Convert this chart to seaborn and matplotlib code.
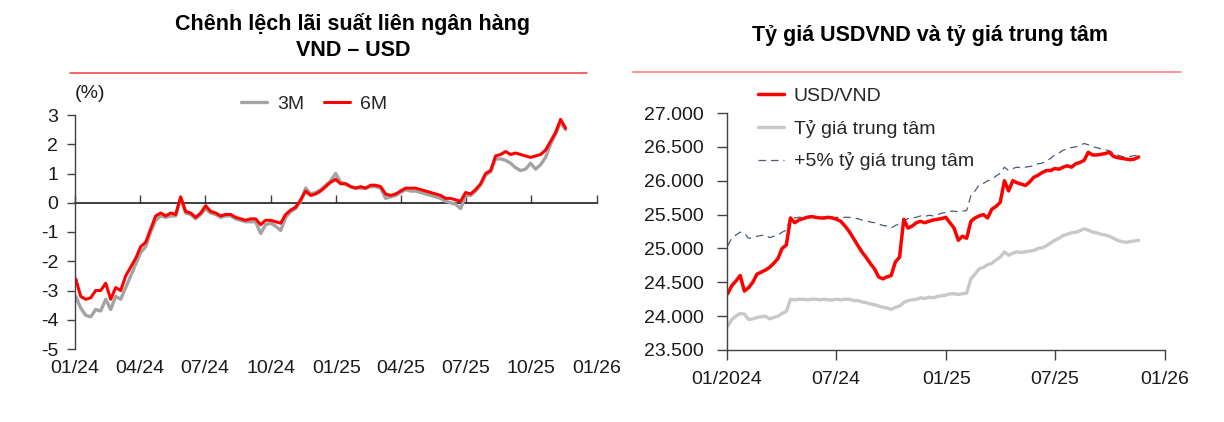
import matplotlib
matplotlib.use("Agg")
import matplotlib.pyplot as plt
import matplotlib.dates as mdates
from matplotlib.lines import Line2D
from matplotlib.ticker import FuncFormatter, FixedLocator
import numpy as np
import pandas as pd
import seaborn as sns

# ---------------- DATA ----------------
start_date = "2024-01-02"  # weekly observations

# Left chart: interbank rate spread VND - USD (%)
spread_3m = [-3.2, -3.6, -3.85, -3.9, -3.65, -3.7, -3.3, -3.65, -3.2, -3.3,
             -2.9, -2.5, -2.1, -1.7, -1.5, -1.0, -0.6, -0.45, -0.5, -0.45,
             -0.45, 0.15, -0.35, -0.4, -0.55, -0.4, -0.2, -0.35, -0.4, -0.5,
             -0.45, -0.45, -0.55, -0.6, -0.65, -0.65, -0.65, -1.05, -0.75, -0.7,
             -0.8, -0.95, -0.5, -0.3, -0.2, 0.05, 0.5, 0.3, 0.35, 0.45,
             0.6, 0.75, 1.0, 0.7, 0.65, 0.55, 0.5, 0.5, 0.5, 0.55,
             0.55, 0.5, 0.15, 0.2, 0.25, 0.35, 0.45, 0.4, 0.4, 0.35,
             0.3, 0.25, 0.2, 0.15, 0.05, 0.0, -0.05, -0.2, 0.25, 0.25,
             0.4, 0.6, 0.95, 1.05, 1.5, 1.5, 1.45, 1.35, 1.2, 1.1,
             1.15, 1.35, 1.15, 1.3, 1.55, 2.0, 2.35, 2.75, 2.5]
spread_6m = [-2.6, -3.2, -3.3, -3.25, -3.0, -3.0, -2.75, -3.3, -2.9, -3.0,
             -2.5, -2.2, -1.9, -1.5, -1.35, -0.9, -0.45, -0.35, -0.45, -0.35,
             -0.4, 0.2, -0.3, -0.35, -0.5, -0.35, -0.1, -0.3, -0.35, -0.45,
             -0.4, -0.4, -0.5, -0.55, -0.6, -0.55, -0.55, -0.75, -0.6, -0.6,
             -0.65, -0.7, -0.4, -0.25, -0.15, 0.1, 0.4, 0.25, 0.3, 0.4,
             0.55, 0.7, 0.8, 0.65, 0.65, 0.55, 0.5, 0.55, 0.5, 0.6,
             0.6, 0.55, 0.3, 0.25, 0.3, 0.4, 0.5, 0.5, 0.5, 0.45,
             0.4, 0.35, 0.3, 0.25, 0.15, 0.15, 0.1, 0.05, 0.35, 0.3,
             0.45, 0.65, 1.0, 1.1, 1.6, 1.65, 1.75, 1.65, 1.7, 1.65,
             1.6, 1.55, 1.6, 1.65, 1.8, 2.1, 2.4, 2.85, 2.55]

# Right chart: USD/VND, central rate, +5% band
usd_vnd = [24330, 24450, 24520, 24600, 24370, 24420, 24500, 24620, 24650, 24680,
           24720, 24780, 24850, 25000, 25050, 25450, 25380, 25420, 25440, 25460,
           25470, 25460, 25450, 25450, 25460, 25450, 25430, 25400, 25330, 25250,
           25150, 25050, 24950, 24870, 24780, 24700, 24580, 24550, 24580, 24600,
           24800, 24870, 25430, 25300, 25330, 25380, 25400, 25380, 25400, 25420,
           25430, 25440, 25460, 25380, 25300, 25120, 25180, 25150, 25400, 25450,
           25480, 25500, 25450, 25580, 25620, 25680, 26000, 25850, 26000, 25970,
           25950, 25930, 25980, 26050, 26080, 26120, 26150, 26150, 26180, 26170,
           26200, 26220, 26200, 26250, 26270, 26300, 26420, 26380, 26380, 26390,
           26400, 26420, 26360, 26340, 26330, 26320, 26310, 26320, 26350]
central_rate = [23850, 23950, 24000, 24040, 24030, 23950, 23960, 23980, 23990, 24000,
                23960, 23980, 24000, 24040, 24070, 24250, 24240, 24250, 24250, 24240,
                24250, 24250, 24240, 24250, 24240, 24240, 24250, 24240, 24250, 24250,
                24230, 24230, 24210, 24200, 24180, 24170, 24150, 24130, 24120, 24100,
                24130, 24150, 24200, 24230, 24240, 24250, 24270, 24260, 24280, 24270,
                24290, 24300, 24310, 24330, 24330, 24320, 24330, 24340, 24550, 24620,
                24700, 24720, 24760, 24780, 24830, 24870, 24950, 24900, 24930, 24950,
                24940, 24950, 24960, 24970, 25000, 25010, 25040, 25080, 25120, 25150,
                25190, 25210, 25230, 25240, 25260, 25290, 25270, 25240, 25230, 25210,
                25200, 25180, 25150, 25120, 25100, 25090, 25100, 25110, 25120]
band_plus5 = [25040, 25150, 25200, 25240, 25230, 25150, 25160, 25180, 25190, 25200,
              25160, 25180, 25200, 25240, 25270, 25460, 25450, 25460, 25460, 25450,
              25460, 25460, 25450, 25460, 25450, 25450, 25460, 25450, 25460, 25460,
              25440, 25440, 25420, 25410, 25390, 25380, 25360, 25340, 25330, 25300,
              25340, 25360, 25410, 25440, 25450, 25460, 25480, 25470, 25490, 25480,
              25500, 25520, 25530, 25550, 25550, 25540, 25550, 25560, 25780, 25850,
              25940, 25960, 26000, 26020, 26070, 26110, 26200, 26150, 26180, 26200,
              26190, 26200, 26210, 26220, 26250, 26260, 26290, 26330, 26380, 26410,
              26450, 26470, 26490, 26500, 26520, 26550, 26530, 26500, 26490, 26470,
              26460, 26440, 26410, 26380, 26360, 26340, 26360, 26370, 26380]

left_ticks = ["2024-01-01", "2024-04-01", "2024-07-01", "2024-10-01", "2025-01-01",
              "2025-04-01", "2025-07-01", "2025-10-01", "2026-01-01"]
left_tick_labels = ["01/24", "04/24", "07/24", "10/24", "01/25", "04/25", "07/25", "10/25", "01/26"]
right_ticks = ["2024-01-01", "2024-07-01", "2025-01-01", "2025-07-01", "2026-01-01"]
right_tick_labels = ["01/2024", "07/24", "01/25", "07/25", "01/26"]

left_title = "Chênh lệch lãi suất liên ngân hàng\nVND – USD"
right_title = "Tỷ giá USDVND và tỷ giá trung tâm"


def frame(values):
    return pd.DataFrame({"date": pd.date_range(start_date, periods=len(values), freq="7D"),
                         "value": values})


# ---------------- STYLE ----------------
sns.set_theme(style="white")
plt.rcParams["font.family"] = ["Liberation Sans", "DejaVu Sans"]
plt.rcParams["axes.unicode_minus"] = False

W, H = 1224, 422
fig = plt.figure(figsize=(W / 100, H / 100), dpi=100)
fig.patch.set_facecolor("white")

def fx(px):
    return px / W

def fy(py):
    return 1 - py / H

TXT = "#1a1a1a"
SPINE = "#404040"
FS = 14
TFS = 15.5

# ---------------- LEFT CHART ----------------
axL = fig.add_axes([fx(75), fy(349), fx(597) - fx(75), fy(115) - fy(349)])
sns.lineplot(data=frame(spread_3m), x="date", y="value", ax=axL, color="#A3A3A3", lw=2.4, label="3M")
sns.lineplot(data=frame(spread_6m), x="date", y="value", ax=axL, color="#FF0000", lw=2.2, label="6M")
axL.set_xlim(pd.Timestamp("2024-01-01"), pd.Timestamp("2026-01-01"))
axL.set_ylim(-5, 3)
axL.set_yticks(range(-5, 4))
axL.set_xlabel("")
axL.set_ylabel("")
for s in ["top", "right", "bottom"]:
    axL.spines[s].set_visible(False)
axL.spines["left"].set_color(SPINE)
axL.spines["left"].set_linewidth(1)
lt = [mdates.date2num(pd.Timestamp(t)) for t in left_ticks]
axL.xaxis.set_major_locator(FixedLocator(lt))
axL.set_xticklabels(left_tick_labels)
axL.tick_params(axis="x", length=0, pad=8, labelsize=FS, labelcolor=TXT)
axL.tick_params(axis="y", direction="out", length=6, width=1, color=SPINE, pad=6,
                labelsize=FS, labelcolor=TXT, left=True)
# zero axis line with tick marks
sec = axL.secondary_xaxis(5 / 8)
sec.spines["bottom"].set_color(SPINE)
sec.spines["bottom"].set_linewidth(1)
sec.xaxis.set_major_locator(FixedLocator(lt))
sec.tick_params(axis="x", direction="out", length=6, width=1, color=SPINE, labelbottom=False)
sec.set_xticklabels([])
axL.legend(loc="center left", bbox_to_anchor=(fx(241), fy(104)), bbox_transform=fig.transFigure,
           ncol=2, frameon=False, fontsize=FS, handlelength=1.35, handletextpad=0.5,
           columnspacing=1.0, borderpad=0, borderaxespad=0)
fig.text(fx(75), fy(93), "(%)", ha="left", va="center", fontsize=FS, color=TXT)

# ---------------- RIGHT CHART ----------------
axR = fig.add_axes([fx(727), fy(350), fx(1165) - fx(727), fy(113) - fy(350)])
sns.lineplot(data=frame(central_rate), x="date", y="value", ax=axR, color="#C8C8C8", lw=2.4,
             label="Tỷ giá trung tâm")
sns.lineplot(data=frame(band_plus5), x="date", y="value", ax=axR, color="#4A5B7A", lw=0.9,
             dashes=False, label="+5% tỷ giá trung tâm")
axR.lines[-1].set_linestyle((0, (6, 4)))
sns.lineplot(data=frame(usd_vnd), x="date", y="value", ax=axR, color="#FF0000", lw=2.5,
             label="USD/VND")
axR.set_xlim(pd.Timestamp("2024-01-01"), pd.Timestamp("2026-01-01"))
axR.set_ylim(23500, 27000)
axR.set_yticks(range(23500, 27001, 500))
axR.yaxis.set_major_formatter(FuncFormatter(lambda v, p: f"{int(v):,}".replace(",", ".")))
axR.set_xlabel("")
axR.set_ylabel("")
for s in ["top", "right"]:
    axR.spines[s].set_visible(False)
for s in ["left", "bottom"]:
    axR.spines[s].set_color(SPINE)
    axR.spines[s].set_linewidth(1)
rt = [mdates.date2num(pd.Timestamp(t)) for t in right_ticks]
axR.xaxis.set_major_locator(FixedLocator(rt))
axR.set_xticklabels(right_tick_labels)
axR.tick_params(axis="x", direction="out", length=7, width=1, color=SPINE, pad=8,
                labelsize=FS, labelcolor=TXT, bottom=True)
axR.tick_params(axis="y", direction="out", length=7, width=1, color=SPINE, pad=10,
                labelsize=FS, labelcolor=TXT, left=True)
h, l = axR.get_legend_handles_labels()
order = [2, 0, 1]
axR.legend([h[i] for i in order], [l[i] for i in order], loc="center left",
           bbox_to_anchor=(fx(758), fy(129)), bbox_transform=fig.transFigure,
           frameon=False, fontsize=FS, handlelength=1.35, handletextpad=0.5,
           labelspacing=0.75, borderpad=0, borderaxespad=0)

# ---------------- TITLES & RULES ----------------
fig.text(fx(353), fy(37), left_title, ha="center", va="center", fontsize=TFS,
         fontweight="bold", color="black", linespacing=1.3)
fig.text(fx(930), fy(36), right_title, ha="center", va="center", fontsize=TFS,
         fontweight="bold", color="black")
fig.add_artist(Line2D([fx(70), fx(587)], [fy(73), fy(73)], color="#F24C4C", lw=1.2,
                      transform=fig.transFigure))
fig.add_artist(Line2D([fx(633), fx(1181)], [fy(72), fy(72)], color="#FF8080", lw=1.2,
                      transform=fig.transFigure))

fig.savefig("out.png", dpi=100, facecolor="white")
